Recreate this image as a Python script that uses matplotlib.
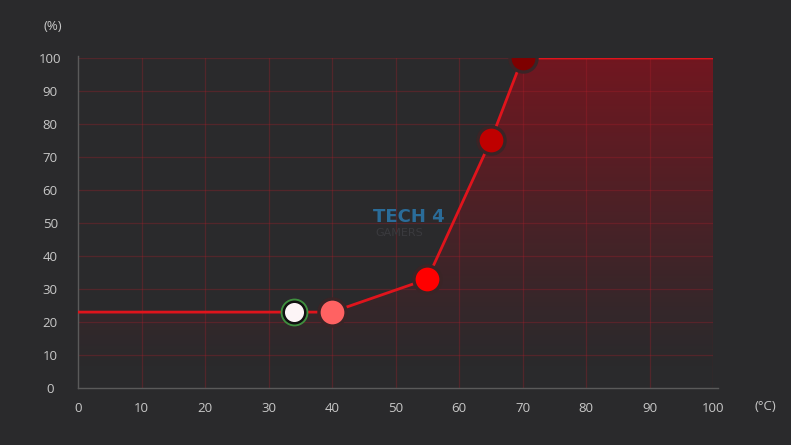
import numpy as np
import matplotlib
matplotlib.use('Agg')
import matplotlib.pyplot as plt
from matplotlib.patches import Polygon

# fan curve data: temperature (C) vs fan speed (%)
temps = [0, 34, 40, 55, 65, 70, 100]
speeds = [23, 23, 23, 33, 75, 100, 100]

# control points shown as circles
point_temps = [40, 55, 65, 70]
point_speeds = [23, 33, 75, 100]
point_colors = ['#ff6262', '#ff0000', '#bf0000', '#7e0000']

# current operating point
current_temp = 34
current_speed = 23

x_ticks = list(range(0, 101, 10))
y_ticks = list(range(0, 101, 10))

bg = '#2a2a2c'
txt = '#c8c8c8'

fig = plt.figure(figsize=(7.91, 4.45), dpi=100, facecolor=bg)
W, H = 791, 445
x0, x1 = 78, 713
y0, y1 = 388, 58
ax = fig.add_axes([x0 / W, (H - y0) / H, (x1 - x0) / W, (y0 - y1) / H])
ax.set_facecolor(bg)
ax.set_xlim(0, 100)
ax.set_ylim(0, 100)

# gradient fill under the curve, fading out towards the bottom
yy = np.linspace(100, 0, 400)
alpha = np.clip((yy - 6) / 94, 0, 1) ** 1.1 * 0.88
grad = np.zeros((400, 2, 4))
grad[..., 0] = 0.49
grad[..., 1] = 0.08
grad[..., 2] = 0.12
grad[..., 3] = alpha[:, None]
img = ax.imshow(grad, extent=[0, 100, 0, 100], aspect='auto', origin='upper', zorder=1)
poly = Polygon(list(zip(temps, speeds)) + [(100, 0), (0, 0)], closed=True,
               facecolor='none', edgecolor='none')
ax.add_patch(poly)
img.set_clip_path(poly)

# grid
for v in x_ticks[1:]:
    ax.plot([v, v], [0, 100], color='#b01e2a', alpha=0.3, lw=0.9, zorder=2)
for v in y_ticks[1:]:
    ax.plot([0, 100], [v, v], color='#b01e2a', alpha=0.3, lw=0.9, zorder=2)

# curve
ax.plot(temps, speeds, color='#e0141c', lw=2, zorder=3, solid_capstyle='butt')

# control points
for tx, sy, c in zip(point_temps, point_speeds, point_colors):
    ax.plot(tx, sy, 'o', ms=19.5, mfc=c, mec='#3a2426', mew=2.4, zorder=5)

ax.plot(current_temp, current_speed, 'o', ms=19, mfc='#3f8f3f', mec='#3f8f3f', zorder=6)
ax.plot(current_temp, current_speed, 'o', ms=15.5, mfc='#fcf4f6', mec='#111111', mew=1.8, zorder=7)

# spines
for s in ['top', 'right']:
    ax.spines[s].set_visible(False)
for s in ['left', 'bottom']:
    ax.spines[s].set_color('#5a5a5a')
    ax.spines[s].set_linewidth(1)
    ax.spines[s].set_clip_on(False)
ax.spines['bottom'].set_bounds(0, 100.8)
ax.spines['left'].set_bounds(0, 100.6)

ax.set_xticks(x_ticks)
ax.set_yticks(y_ticks)
ax.tick_params(length=0, colors=txt, labelsize=9.5, pad=10)
ax.tick_params(axis='y', pad=20)
for lab in ax.get_xticklabels() + ax.get_yticklabels():
    lab.set_fontfamily('Open Sans')
ax.set_yticklabels([str(v) for v in y_ticks], ha='center')

fig.text(53 / W, 1 - 27 / H, '(%)', color=txt, fontsize=9.5, ha='center', va='center',
         family='Open Sans')
fig.text(765 / W, 1 - 406 / H, '(°C)', color=txt, fontsize=9.5, ha='center', va='center',
         family='Open Sans')

# watermark
fig.text(373 / W, 1 - 217 / H, 'TECH 4', color='#2a78ad', fontsize=13, fontweight='bold',
         ha='left', va='center', family='DejaVu Sans', alpha=0.85)
fig.text(375 / W, 1 - 233 / H, 'GAMERS', color='#3a3a3e', fontsize=8,
         ha='left', va='center', family='DejaVu Sans')

fig.savefig('out.png', dpi=100, facecolor=bg)
